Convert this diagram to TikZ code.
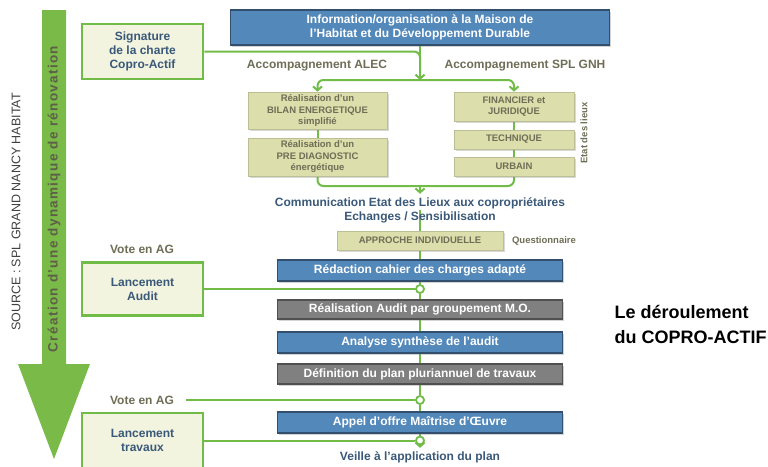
\documentclass[tikz,border=0pt]{standalone}
\usepackage{fontspec}
\setmainfont{Liberation Sans}
\newfontfamily\spacedsans[LetterSpace=10]{Liberation Sans}
\usetikzlibrary{arrows.meta, positioning, shadows, backgrounds}

\definecolor{leafgreen}{RGB}{112,188,70}
\definecolor{arrowgreen}{RGB}{122,186,72}
\definecolor{boxblue}{RGB}{82,136,186}
\definecolor{boxblueedge}{RGB}{50,80,110}
\definecolor{boxgrey}{RGB}{128,128,128}
\definecolor{boxgreyedge}{RGB}{80,80,80}
\definecolor{sand}{RGB}{220,222,172}
\definecolor{sandedge}{RGB}{188,190,150}
\definecolor{cream}{RGB}{242,244,224}
\definecolor{slate}{RGB}{58,88,120}
\definecolor{olive}{RGB}{110,110,86}

\begin{document}
\begin{tikzpicture}[x=1pt, y=-1pt,
	gline/.style={draw=leafgreen, line width=2pt},
	tipv/.style={-{Straight Barb[length=4pt, width=9pt]}},
	bluebox/.style={draw=boxblueedge, line width=1.2pt, fill=boxblue, text=white,
		font=\fontsize{12}{14}\selectfont\bfseries, minimum width=285, minimum height=21,
		inner sep=0pt, drop shadow={shadow xshift=1.5pt, shadow yshift=-1.5pt, opacity=.35}},
	greybox/.style={bluebox, draw=boxgreyedge, fill=boxgrey, minimum height=19},
	sandbox/.style={draw=sandedge, line width=.6pt, fill=sand, text=olive, align=center,
		font=\fontsize{9.5}{11.5}\selectfont\bfseries, inner sep=0pt,
		drop shadow={shadow xshift=1.5pt, shadow yshift=-1.5pt, opacity=.3}},
	stagebox/.style={draw=leafgreen, line width=2.5pt, fill=cream, text=slate, align=center,
		font=\fontsize{12}{14}\selectfont\bfseries, minimum width=121, inner sep=0pt},
	oliv/.style={text=olive, font=\fontsize{12}{14}\selectfont\bfseries},
	slatetxt/.style={text=slate, font=\fontsize{12}{14}\selectfont\bfseries, align=center},
	dot/.style={circle, draw=leafgreen, line width=1.8pt, fill=white, minimum size=8pt, inner sep=0pt}]
	\useasboundingbox (0,0) rectangle (768,466);

	% Side arrow and source
	\fill[arrowgreen] (42,10) -- (66,10) -- (66,364) -- (90,364) -- (54,459) -- (18,364) -- (42,364) -- cycle;
	\node[rotate=90, text=olive!85!black, font=\spacedsans\fontsize{13.5}{15}\selectfont\bfseries] (dyn) at (54,199) {Création d’une dynamique de rénovation};
	\node[rotate=90, text=black!75, font=\fontsize{12.5}{14}\selectfont] (src) at (16,212) {SOURCE : SPL GRAND NANCY HABITAT};

	% Left column
	\node[stagebox, minimum height=55] (sig) at (142.5,51.5) {Signature\\de la charte\\Copro-Actif};
	\node[oliv] (vote1) at (142,249) {Vote en AG};
	\node[stagebox, minimum height=53] (lanca) at (142.5,289) {Lancement\\Audit};
	\node[oliv] (vote2) at (142,400) {Vote en AG};
	\node[stagebox, minimum height=55] (lanct) at (142.5,440.5) {Lancement\\travaux};

	% Top of the flow
	\node[bluebox, minimum width=379, minimum height=35, align=center] (info) at (420,27.5) {Information/organisation à la Maison de\\l’Habitat et du Développement Durable};
	\coordinate (split) at (420,80);
	\node[oliv] (alec) at (317,66) {Accompagnement ALEC};
	\node[oliv] (gnh) at (525,66) {Accompagnement SPL GNH};

	\node[sandbox, minimum width=139, minimum height=37] (bilan) at (317.5,110.5) {Réalisation d’un\\BILAN ENERGETIQUE\\simplifié};
	\node[sandbox, minimum width=139, minimum height=38] (prediag) at (317.5,157) {Réalisation d’un\\PRE DIAGNOSTIC\\énergétique};
	\node[sandbox, minimum width=120, minimum height=29] (fin) at (514,106.5) {FINANCIER et\\JURIDIQUE};
	\node[sandbox, minimum width=120, minimum height=19] (tech) at (514,139.5) {TECHNIQUE};
	\node[sandbox, minimum width=120, minimum height=19] (urb) at (514,166.5) {URBAIN};
	\node[rotate=90, text=olive, font=\fontsize{9.5}{11}\selectfont\bfseries] (etat) at (584,133) {Etat des lieux};
	\coordinate (merge) at (420,186);

	% Main sequence
	\node[slatetxt] (comm) at (420,210) {Communication Etat des Lieux aux copropriétaires\\Echanges / Sensibilisation};
	\node[sandbox, minimum width=166, minimum height=19] (approche) at (420,240.5) {APPROCHE INDIVIDUELLE};
	\node[text=olive, font=\fontsize{9.5}{11}\selectfont\bfseries] (quest) at (544,241) {Questionnaire};
	\node[bluebox] (redac) at (420,270.5) {Rédaction cahier des charges adapté};
	\node[dot] (c1) at (420,289) {};
	\node[greybox] (realis) at (420,309.5) {Réalisation Audit par groupement M.O.};
	\node[bluebox] (analyse) at (420,342.5) {Analyse synthèse de l’audit};
	\node[greybox, minimum height=20] (defin) at (420,374) {Définition du plan pluriannuel de travaux};
	\node[dot] (c2) at (420,400) {};
	\node[bluebox] (appel) at (420,422.5) {Appel d’offre Maîtrise d’Œuvre};
	\node[dot] (c3) at (420,440.5) {};
	\node[slatetxt] (veille) at (420,457) {Veille à l’application du plan};

	% Title
	\node[anchor=west, align=left, font=\fontsize{18}{25}\selectfont\bfseries] (title) at (611,324) {Le déroulement\\du COPRO-ACTIF};

	% Connectors
	\begin{pgfonlayer}{background}
		\draw[gline, rounded corners=6pt] (sig.east) -| (split);
		\draw[gline, tipv] (info) -- (split);
		\draw[gline, rounded corners=6pt, tipv] (split) -| (bilan);
		\draw[gline, rounded corners=6pt, tipv] (split) -| (fin);
		\draw[gline] (bilan) -- (prediag);
		\draw[gline] (fin) -- (tech) -- (urb);
		\draw[gline, rounded corners=6pt] (prediag.south) |- (merge) -| (urb.south);
		\draw[gline, tipv] (merge) -- (comm);
		\draw[gline] (comm.center) -- (approche) -- (redac) -- (c1) -- (realis) -- (analyse) -- (defin) -- (c2) -- (appel) -- (c3);
		\draw[gline, tipv] (c3) -- (veille);
		\draw[gline] (lanca.east) -- (c1);
		\draw[gline] ([xshift=9pt]vote2.east) -- (c2);
		\draw[gline] (lanct.east) -- (c3);
	\end{pgfonlayer}
\end{tikzpicture}
\end{document}
